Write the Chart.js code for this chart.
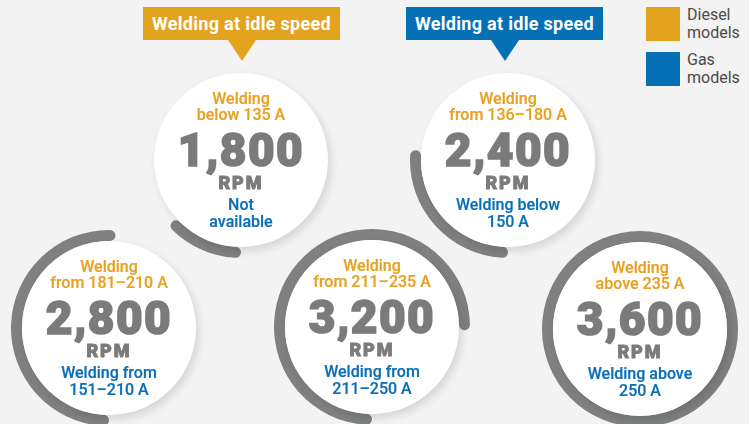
<!DOCTYPE html>
<html>
<head>
<meta charset="utf-8">
<script src="https://cdn.jsdelivr.net/npm/chart.js@4.4.0/dist/chart.umd.min.js"></script>
<style>
    body {
        margin: 0;
        width: 749px;
        height: 424px;
        background: #f3f3f3;
        overflow: hidden;
        position: relative;
        font-family: "Roboto", "Liberation Sans", sans-serif;
    }
    .callout {
        position: absolute;
        top: 7px;
        width: 197px;
        height: 33px;
        line-height: 33px;
        color: #fff;
        font-weight: bold;
        font-size: 18px;
        text-align: center;
        letter-spacing: 0.3px;
    }
    .callout::after {
        content: "";
        position: absolute;
        left: 50%;
        margin-left: -14px;
        top: 33px;
        border-left: 14px solid transparent;
        border-right: 14px solid transparent;
        border-top: 21px solid var(--c);
    }
    .legend-item {
        position: absolute;
        left: 646px;
        width: 110px;
        height: 34px;
    }
    .legend-item .swatch {
        position: absolute;
        left: 0;
        top: 0;
        width: 34px;
        height: 34px;
    }
    .legend-item .label {
        position: absolute;
        left: 41px;
        top: -1px;
        font-size: 16px;
        line-height: 18px;
        color: #4a4a4a;
    }
    .gauge {
        position: absolute;
        width: 196px;
        height: 196px;
    }
    .gauge canvas {
        position: absolute;
        left: 0;
        top: 0;
    }
    .gauge .face {
        position: absolute;
        left: 11px;
        top: 11px;
        width: 174px;
        height: 174px;
        border-radius: 50%;
        background: #fff;
        box-shadow: 3px 4px 9px rgba(0, 0, 0, 0.13);
    }
    .gauge .line {
        position: absolute;
        left: 0;
        width: 196px;
        text-align: center;
        white-space: nowrap;
    }
    .diesel { color: #e6a224; font-size: 16px; line-height: 18px; font-weight: 500; -webkit-text-stroke: 0.2px #e6a224; }
    .gas { color: #0b6fb6; font-size: 16px; line-height: 18px; font-weight: 500; -webkit-text-stroke: 0.2px #0b6fb6; }
    .num { color: #7b7b7b; font-size: 46px; line-height: 46px; font-weight: 900; letter-spacing: 1.5px; -webkit-text-stroke: 1.6px #7b7b7b; }
    .rpm { color: #7b7b7b; font-size: 18px; line-height: 18px; font-weight: 900; letter-spacing: 2px; -webkit-text-stroke: 0.9px #7b7b7b; }
</style>
</head>
<body>

<div class="callout" style="left:143px; background:#e4a31f; --c:#e4a31f;">Welding at idle speed</div>
<div class="callout" style="left:406px; background:#0670b7; --c:#0670b7;">Welding at idle speed</div>

<div class="legend-item" style="top:7px;">
    <div class="swatch" style="background:#e4a31f;"></div>
    <div class="label">Diesel<br>models</div>
</div>
<div class="legend-item" style="top:52px;">
    <div class="swatch" style="background:#0670b7;"></div>
    <div class="label">Gas<br>models</div>
</div>

<script>
// Engine speed for each welding range
const rpmValues = [1800, 2400, 2800, 3200, 3600];

// How far round each grey ring goes, in degrees
const arcDegrees = [48, 96, 184, 272, 360];

// Diesel model text (orange), two lines each
const dieselLabels = [
    ["Welding", "below 135 A"],
    ["Welding", "from 136–180 A"],
    ["Welding", "from 181–210 A"],
    ["Welding", "from 211–235 A"],
    ["Welding", "above 235 A"],
];

// Gas model text (blue), two lines each
const gasLabels = [
    ["Not", "available"],
    ["Welding below", "150 A"],
    ["Welding from", "151–210 A"],
    ["Welding from", "211–250 A"],
    ["Welding above", "250 A"],
];

// Where each circle sits on the page (centre x, centre y)
const gaugeCentres = [[241, 160], [508, 160], [109, 328], [372, 327], [640, 329]];

// Build one doughnut gauge per RPM value
function buildGauges() {
    rpmValues.forEach((rpm, i) => {
        const [cx, cy] = gaugeCentres[i];
        const gauge = document.createElement("div");
        gauge.classList.add("gauge");
        gauge.style.left = (cx - 98) + "px";
        gauge.style.top = (cy - 98) + "px";
        gauge.innerHTML = `
            <canvas width="196" height="196"></canvas>
            <div class="face"></div>
            <div class="line diesel" style="top:${98 - 61 - 9}px">${dieselLabels[i][0]}</div>
            <div class="line diesel" style="top:${98 - 45 - 9}px">${dieselLabels[i][1]}</div>
            <div class="line num" style="top:${98 - 10 - 23}px">${rpm.toLocaleString("en-US")}</div>
            <div class="line rpm" style="top:${98 + 23 - 9}px">RPM</div>
            <div class="line gas" style="top:${98 + 45 - 9}px">${gasLabels[i][0]}</div>
            <div class="line gas" style="top:${98 + 62 - 9}px">${gasLabels[i][1]}</div>
        `;
        document.body.appendChild(gauge);

        const deg = arcDegrees[i];
        new Chart(gauge.querySelector("canvas").getContext("2d"), {
            type: "doughnut",
            data: {
                labels: ["RPM", ""],
                datasets: [
                    {
                        data: [deg, 360 - deg],
                        backgroundColor: ["#7f8080", "rgba(0,0,0,0)"],
                        borderWidth: 0,
                        hoverOffset: 0,
                        borderRadius: (ctx) => (ctx.dataIndex === 0 && ctx.raw < 360 ? 6 : 0),
                    },
                ],
            },
            options: {
                responsive: false,
                animation: false,
                rotation: 180,
                cutout: 87,
                events: [],
                layout: { padding: 0 },
                plugins: {
                    legend: { display: false },
                    tooltip: { enabled: false },
                },
            },
        });
    });
}

buildGauges();
</script>
</body>
</html>
